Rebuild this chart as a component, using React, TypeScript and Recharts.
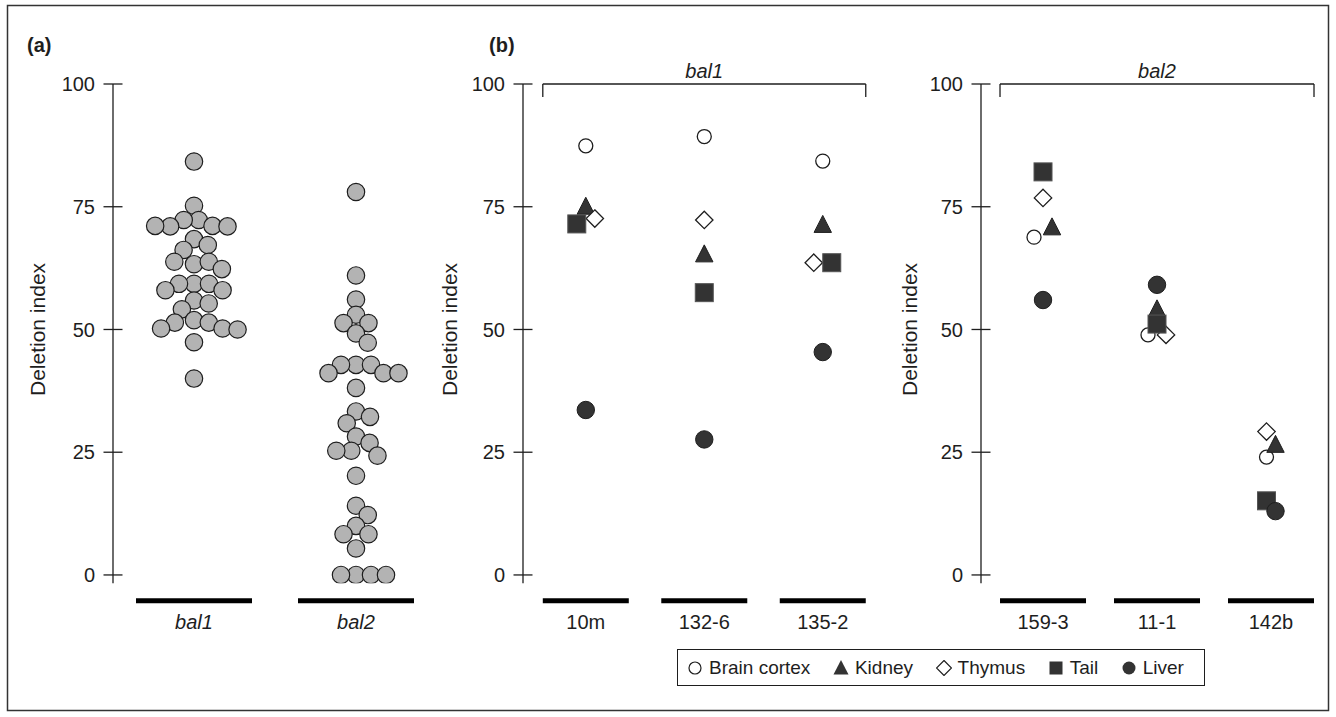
import React from 'react';
import { ScatterChart, Scatter, XAxis, YAxis, ReferenceLine, Legend } from 'recharts';

const W = 1336;
const H = 717;

// ---------- data: panel (a) ----------
const groupsA = ['bal1', 'bal2'];
const bal1Values = [84.2, 75.2, 72.3, 72.3, 71.1, 71.0, 71.0, 71.1, 68.4, 67.2, 66.2, 63.3, 63.8, 63.8, 62.3, 59.3, 59.3, 59.3, 58.0, 58.0, 55.9, 55.3, 54.1, 51.9, 51.4, 51.4, 50.2, 50.2, 50.0, 47.4, 40.0];
const bal2Values = [78.0, 61.0, 56.1, 53.0, 51.3, 51.3, 49.2, 47.3, 42.8, 42.8, 42.8, 41.1, 41.1, 41.1, 38.1, 33.3, 32.2, 30.9, 28.2, 26.9, 25.3, 25.3, 24.3, 20.2, 14.1, 12.2, 10.0, 8.3, 8.3, 5.4, 0, 0, 0, 0];

// ---------- data: panel (b) ----------
const linesBal1 = ['10m', '132-6', '135-2'];
const linesBal2 = ['159-3', '11-1', '142b'];
const tissues = ['Brain cortex', 'Kidney', 'Thymus', 'Tail', 'Liver'];
// values in order: 10m, 132-6, 135-2, 159-3, 11-1, 142b
const brainCortex = [87.4, 89.3, 84.3, 68.8, 48.9, 24.0];
const kidney = [75.0, 65.3, 71.3, 70.8, 54.1, 26.5];
const thymus = [72.6, 72.3, 63.6, 76.8, 48.9, 29.2];
const tail = [71.5, 57.5, 63.6, 82.1, 51.1, 15.1];
const liver = [33.6, 27.6, 45.4, 56.0, 59.1, 13.0];
const yTicks = [0, 25, 50, 75, 100];

// ---------- layout ----------
const FONT = '"Liberation Sans", Arial, sans-serif';
const INK = '#1e1e1e';
const TOP = 84;
const Y_MIN = -1.7;
const Y_MAX = 100;
const PLOT_BOTTOM = 583.3;
const X_AXIS_H = 60;
const Y_AXIS_W = 60;
const BOTTOM_MARGIN = H - PLOT_BOTTOM - X_AXIS_H;
const PX_PER_Y = (PLOT_BOTTOM - TOP) / (Y_MAX - Y_MIN);

const panelA = { left: 113, width: 324, domain: [0.5, 2.5] as [number, number] };
const panelB1 = { left: 523, width: 359, domain: [0.47, 3.5] as [number, number] };
const panelB2 = { left: 981, width: 347, domain: [0.456, 3.5] as [number, number] };
const pxPerX = (p: { width: number; domain: [number, number] }) => p.width / (p.domain[1] - p.domain[0]);

// beeswarm layout computed from the values
function swarm(values: number[], center: number, pxX: number, d: number) {
  const placed: { px: number; py: number }[] = [];
  return values.map((v) => {
    const py = v * PX_PER_Y;
    const cands = [0];
    placed.forEach((p) => {
      const dy = Math.abs(p.py - py);
      if (dy < d) {
        const dx = Math.sqrt(d * d - dy * dy);
        cands.push(p.px + dx, p.px - dx);
      }
    });
    const ok = cands.filter((c) => placed.every((p) => Math.hypot(p.px - c, p.py - py) >= d - 1e-6));
    ok.sort((a, b) => Math.abs(a) - Math.abs(b) || b - a);
    const px = ok[0];
    placed.push({ px, py });
    return { x: center + px / pxX, y: v };
  });
}

// side-by-side dodge for overlapping markers inside one category, then centre each overlapping group
function dodgeOffsets(series: number[][], catIdx: number) {
  const STEP = 9;
  const D = 13.5;
  const placed: { px: number; py: number }[] = [];
  const steps = [0, 1, -1, 2, -2, 3, -3];
  series.forEach((vals) => {
    const py = vals[catIdx] * PX_PER_Y;
    let px = 0;
    for (const k of steps) {
      const c = k * STEP;
      if (placed.every((p) => Math.hypot(p.px - c, p.py - py) >= D)) {
        px = c;
        break;
      }
    }
    placed.push({ px, py });
  });
  // connected groups of vertically close markers
  const n = placed.length;
  const group = Array.from({ length: n }, (_, i) => i);
  const find = (i: number): number => (group[i] === i ? i : (group[i] = find(group[i])));
  for (let i = 0; i < n; i++)
    for (let j = i + 1; j < n; j++)
      if (Math.abs(placed[i].py - placed[j].py) < D) group[find(i)] = find(j);
  const shift: Record<number, number> = {};
  const roots = Array.from(new Set(placed.map((_, i) => find(i))));
  roots.forEach((r) => {
    const xs = placed.filter((_, i) => find(i) === r).map((p) => p.px);
    shift[r] = -(Math.min(...xs) + Math.max(...xs)) / 2;
  });
  return placed.map((p, i) => p.px + shift[find(i)]);
}

const allSeries = [brainCortex, kidney, thymus, tail, liver];

function buildB(start: number, count: number, pxX: number) {
  const offs: number[][] = [];
  for (let i = 0; i < count; i++) offs.push(dodgeOffsets(allSeries, start + i));
  return allSeries.map((vals, s) =>
    Array.from({ length: count }, (_, i) => ({ x: i + 1 + offs[i][s] / pxX, y: vals[start + i] }))
  );
}

// ---------- marker shapes ----------
const DARK = '#333333';
const shapeOpenCircle = (p: any) => <circle cx={p.cx} cy={p.cy} r={7} fill="#fff" stroke={INK} strokeWidth={1.3} />;
const shapeTriangle = (p: any) => (
  <polygon points={`${p.cx},${p.cy - 9.5} ${p.cx + 8.7},${p.cy + 7.5} ${p.cx - 8.7},${p.cy + 7.5}`} fill={DARK} stroke={INK} strokeWidth={1} />
);
const shapeDiamond = (p: any) => (
  <polygon points={`${p.cx},${p.cy - 8.7} ${p.cx + 8.7},${p.cy} ${p.cx},${p.cy + 8.7} ${p.cx - 8.7},${p.cy}`} fill="#fff" stroke={INK} strokeWidth={1.3} />
);
const shapeSquare = (p: any) => <rect x={p.cx - 9} y={p.cy - 9} width={18} height={18} fill={DARK} stroke="#555" strokeWidth={1} />;
const shapeFilledCircle = (p: any) => <circle cx={p.cx} cy={p.cy} r={8.7} fill={DARK} stroke={INK} strokeWidth={1} />;
const shapeGray = (p: any) => <circle cx={p.cx} cy={p.cy} r={8.7} fill="#b3b3b3" stroke={INK} strokeWidth={1.2} />;
const tissueShapes = [shapeOpenCircle, shapeTriangle, shapeDiamond, shapeSquare, shapeFilledCircle];

// ---------- axes ticks ----------
const YTick = (props: any) => {
  const { x, y, payload } = props;
  return (
    <g>
      <line x1={x - 9.5} x2={x + 9.5} y1={y} y2={y} stroke={INK} strokeWidth={1.3} />
      <text x={x - 18} y={y} dy="0.36em" textAnchor="end" fontSize={20} fill={INK} fontFamily={FONT}>
        {payload.value}
      </text>
    </g>
  );
};

const makeCatTick = (labels: string[], halfW: number, italic: boolean) => (props: any) => {
  const { x, y, payload } = props;
  const label = labels[Math.round(payload.value) - 1];
  return (
    <g>
      <line x1={x - halfW} x2={x + halfW} y1={y + 17.5} y2={y + 17.5} stroke="#000" strokeWidth={5} />
      <text x={x} y={y + 46} textAnchor="middle" fontSize={20} fill={INK} fontFamily={FONT} fontStyle={italic ? 'italic' : 'normal'}>
        {label}
      </text>
    </g>
  );
};

const yLabel = (dxFromAxis: number) => (props: any) => {
  const vb = props.viewBox || {};
  const x = vb.x + vb.width - dxFromAxis;
  const y = vb.y + vb.height * ((Y_MAX - 50) / (Y_MAX - Y_MIN));
  return (
    <text x={x} y={y} transform={`rotate(-90, ${x}, ${y})`} textAnchor="middle" dy="0.36em" fontSize={21} fill={INK} fontFamily={FONT}>
      Deletion index
    </text>
  );
};

const yAxisProps = {
  type: 'number' as const,
  dataKey: 'y',
  domain: [Y_MIN, Y_MAX] as [number, number],
  ticks: yTicks,
  interval: 0 as const,
  allowDataOverflow: true,
  width: Y_AXIS_W,
  tickSize: 0,
  tickMargin: 0,
  tickLine: false,
  axisLine: { stroke: INK, strokeWidth: 1.3 },
  tick: <YTick />,
};

// ---------- legend ----------
const LegendSymbol = ({ name }: { name: string }) => {
  const c = 8;
  let el: React.ReactNode = null;
  if (name === 'Brain cortex') el = <circle cx={c} cy={c} r={6} fill="#fff" stroke={INK} strokeWidth={1.2} />;
  if (name === 'Kidney') el = <polygon points={`${c},${c - 8} ${c + 7.5},${c + 6.5} ${c - 7.5},${c + 6.5}`} fill={DARK} />;
  if (name === 'Thymus') el = <polygon points={`${c},${c - 7.5} ${c + 7.5},${c} ${c},${c + 7.5} ${c - 7.5},${c}`} fill="#fff" stroke={INK} strokeWidth={1.2} />;
  if (name === 'Tail') el = <rect x={c - 6.5} y={c - 6.5} width={13} height={13} fill={DARK} />;
  if (name === 'Liver') el = <circle cx={c} cy={c} r={6.5} fill={DARK} />;
  return (
    <svg width={16} height={16} style={{ display: 'block' }}>
      {el}
    </svg>
  );
};

const renderLegend = (props: any) => {
  const payload: any[] = (props && props.payload) || [];
  const ordered = tissues.map((t) => payload.find((e) => String(e.value) === t) || { value: t });
  return (
    <div style={{ display: 'flex', alignItems: 'center', justifyContent: 'space-between', height: '100%', padding: '0 20px 0 9px', fontFamily: FONT, fontSize: 19, color: INK }}>
      {ordered.map((e: any, i: number) => (
        <div key={i} style={{ display: 'flex', alignItems: 'center', gap: 6 }}>
          <LegendSymbol name={String(e.value)} />
          <span>{e.value}</span>
        </div>
      ))}
    </div>
  );
};

export default function App() {
  const pxA = pxPerX(panelA);
  const pxB1 = pxPerX(panelB1);
  const pxB2 = pxPerX(panelB2);
  const dataA = [swarm(bal1Values, 1, pxA, 15), swarm(bal2Values, 2, pxA, 15)];
  const dataB1 = buildB(0, 3, pxB1);
  const dataB2 = buildB(3, 3, pxB2);
  const endDrop = 13 / PX_PER_Y;
  const halfB = 43;

  const bracket = (pxX: number, n: number, label: string) => {
    const l = 1 - halfB / pxX;
    const r = n + halfB / pxX;
    return [
      <ReferenceLine key="h" segment={[{ x: l, y: Y_MAX }, { x: r, y: Y_MAX }]} stroke={INK} strokeWidth={1.3} ifOverflow="visible"
        label={{ value: label, position: 'top', offset: 6, fill: INK, fontSize: 20, fontStyle: 'italic', fontFamily: FONT }} />,
      <ReferenceLine key="l" segment={[{ x: l, y: Y_MAX }, { x: l, y: Y_MAX - endDrop }]} stroke={INK} strokeWidth={1.3} ifOverflow="visible" />,
      <ReferenceLine key="r" segment={[{ x: r, y: Y_MAX }, { x: r, y: Y_MAX - endDrop }]} stroke={INK} strokeWidth={1.3} ifOverflow="visible" />,
    ];
  };

  const abs: React.CSSProperties = { position: 'absolute', left: 0, top: 0, width: W, height: H };
  const margins = (p: { left: number; width: number }) => ({
    top: TOP,
    left: p.left - Y_AXIS_W,
    right: W - p.left - p.width,
    bottom: BOTTOM_MARGIN,
  });

  return (
    <div style={{ position: 'absolute', left: 0, top: 0, width: W, height: H, background: '#fff', fontFamily: FONT }}>
      <svg style={abs} width={W} height={H}>
        <rect x={7.5} y={5.5} width={1321} height={705} fill="none" stroke="#333" strokeWidth={1.5} />
        <text x={27} y={52} fontSize={20} fontWeight="bold" fill={INK} fontFamily={FONT}>(a)</text>
        <text x={489} y={52} fontSize={20} fontWeight="bold" fill={INK} fontFamily={FONT}>(b)</text>
      </svg>

      {/* Panel (a) */}
      <div style={abs}>
        <ScatterChart width={W} height={H} margin={margins(panelA)}>
          <XAxis type="number" dataKey="x" domain={panelA.domain} ticks={[1, 2]} interval={0} allowDataOverflow height={X_AXIS_H}
            axisLine={false} tickLine={false} tickSize={0} tickMargin={0} tick={makeCatTick(groupsA, 58, true)} />
          <YAxis {...yAxisProps} label={yLabel(76)} />
          <Scatter name="bal1" data={dataA[0]} shape={shapeGray} isAnimationActive={false} />
          <Scatter name="bal2" data={dataA[1]} shape={shapeGray} isAnimationActive={false} />
        </ScatterChart>
      </div>

      {/* Panel (b) bal1 */}
      <div style={abs}>
        <ScatterChart width={W} height={H} margin={margins(panelB1)}>
          <XAxis type="number" dataKey="x" domain={panelB1.domain} ticks={[1, 2, 3]} interval={0} allowDataOverflow height={X_AXIS_H}
            axisLine={false} tickLine={false} tickSize={0} tickMargin={0} tick={makeCatTick(linesBal1, halfB, false)} />
          <YAxis {...yAxisProps} label={yLabel(74)} />
          {bracket(pxB1, 3, 'bal1')}
          {tissues.map((t, s) => (
            <Scatter key={t} name={t} data={dataB1[s]} shape={tissueShapes[s]} isAnimationActive={false} />
          ))}
        </ScatterChart>
      </div>

      {/* Panel (b) bal2 */}
      <div style={abs}>
        <ScatterChart width={W} height={H} margin={margins(panelB2)}>
          <XAxis type="number" dataKey="x" domain={panelB2.domain} ticks={[1, 2, 3]} interval={0} allowDataOverflow height={X_AXIS_H}
            axisLine={false} tickLine={false} tickSize={0} tickMargin={0} tick={makeCatTick(linesBal2, halfB, false)} />
          <YAxis {...yAxisProps} label={yLabel(72)} />
          {bracket(pxB2, 3, 'bal2')}
          {tissues.map((t, s) => (
            <Scatter key={t} name={t} data={dataB2[s]} shape={tissueShapes[s]} isAnimationActive={false} />
          ))}
          <Legend layout="horizontal" verticalAlign="middle" align="center" content={renderLegend}
            wrapperStyle={{ left: 677, top: 649, width: 528, height: 37, border: `1.5px solid ${INK}`, boxSizing: 'border-box', background: '#fff' }} />
        </ScatterChart>
      </div>
    </div>
  );
}
